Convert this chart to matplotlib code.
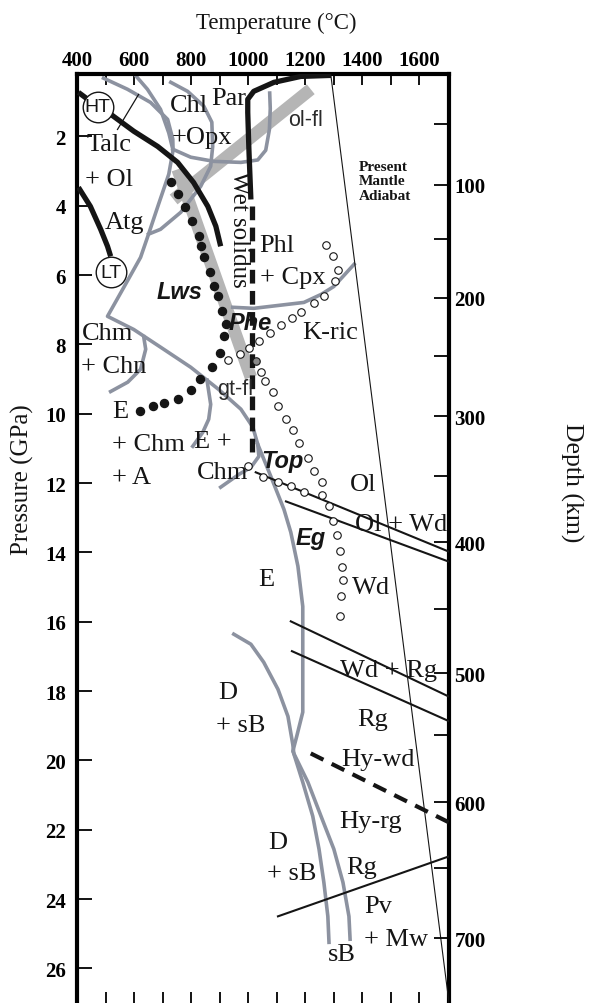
import matplotlib
matplotlib.use("Agg")
import matplotlib.pyplot as plt

SERIF = ["Liberation Serif", "DejaVu Serif"]
SANS = ["Liberation Sans", "DejaVu Sans"]
GREY = "#8c92a0"
BAND = "#b5b5b5"
INK = "#151515"

# axis ranges and ticks
T_RANGE = (400, 1705)
P_RANGE = (27.0, 0.2)
temp_ticks = list(range(400, 1700, 100))
temp_labels = [str(t) if t % 200 == 0 else "" for t in temp_ticks]
pressure_ticks = list(range(2, 27, 2))
depth_km = [50, 100, 150, 200, 250, 300, 350, 400, 450, 500, 550, 600, 650, 700]
depth_at_pressure = [1.65, 3.39, 4.97, 6.65, 8.34, 10.08, 11.80, 13.71, 15.64, 17.49, 19.28, 21.21, 23.11, 25.13]
depth_labels = [str(d) if d % 100 == 0 else "" for d in depth_km]

# thick black reaction curves
ht_T = [405, 472, 518, 599, 683, 753, 809, 859, 887, 904]
ht_P = [0.73, 1.14, 1.36, 1.85, 2.29, 2.75, 3.33, 4.02, 4.59, 5.17]
atg_T = [405, 447, 483, 507, 518]
atg_P = [3.47, 4.02, 4.68, 5.17, 5.46]
solidus_T = [1291, 1185, 1091, 1020, 999, 999, 1003, 1010]
solidus_P = [0.24, 0.27, 0.44, 0.70, 0.93, 1.31, 2.37, 3.82]
solidus_dash_T = [1015, 1015]
solidus_dash_P = [4.0, 11.1]

# grey fluid bands
olfl_T = [1220, 739]
olfl_P = [0.64, 3.82]
gtfl_T = [753, 1010]
gtfl_P = [2.95, 8.95]

# grey phase boundaries
grey_lines = {
    "talc": ([493, 577, 658, 718, 736, 737, 722, 686, 651, 623, 570, 507, 599, 693, 799, 897, 975, 1017, 1034, 1038, 1010, 968, 904],
             [0.32, 0.64, 1.02, 1.51, 2.08, 2.40, 3.09, 3.96, 4.82, 5.49, 6.27, 7.19, 7.57, 8.08, 8.66, 9.30, 9.87, 10.39, 10.88, 11.23, 11.55, 11.75, 12.12]),
    "chl": ([605, 647, 693, 722, 736], [0.24, 0.64, 1.22, 1.90, 2.37]),
    "opx": ([729, 788, 845, 873, 876, 869, 834, 764, 693, 651], [0.44, 0.70, 1.13, 1.59, 2.29, 2.86, 3.44, 4.19, 4.68, 4.82]),
    "par": ([736, 799, 880, 975, 1034, 1062, 1075, 1078, 1076], [2.37, 2.60, 2.72, 2.75, 2.68, 2.40, 1.80, 1.20, 0.75]),
    "chn": ([634, 641, 623, 578, 518], [7.78, 8.14, 8.72, 9.09, 9.36]),
    "e_chm": ([856, 869, 862, 841, 806], [9.03, 9.73, 10.16, 10.54, 10.94]),
    "eg": ([1034, 1080, 1126, 1150, 1175, 1192, 1192, 1192, 1171, 1157, 1210, 1256, 1301, 1333, 1354, 1358],
           [10.88, 11.81, 12.76, 13.42, 14.40, 15.56, 16.80, 18.61, 19.30, 19.74, 20.63, 21.61, 22.56, 23.52, 24.50, 25.16]),
    "d_sb": ([950, 1010, 1055, 1105, 1140, 1157, 1161, 1192, 1227, 1249, 1266, 1280, 1284],
             [16.36, 16.65, 17.17, 17.95, 18.73, 19.54, 19.82, 20.63, 21.61, 22.56, 23.52, 24.50, 25.25]),
    "cpx": ([946, 1020, 1196, 1256, 1301, 1372], [6.93, 6.96, 6.79, 6.56, 6.33, 5.69]),
}

# thin black transitions
thin_lines = {
    "ol": ([1027, 1702], [11.69, 13.97]),
    "ol_wd": ([1133, 1702], [12.53, 14.26]),
    "wd": ([1150, 1702], [15.99, 18.15]),
    "wd_rg": ([1154, 1705], [16.85, 18.87]),
    "pv": ([1105, 1705], [24.50, 22.77]),
}
hywd_T = [1220, 1705]
hywd_P = [19.8, 21.79]
pointer_T = [542, 616]
pointer_P = [1.80, 0.79]
adiabat_T = [1290, 1705]
adiabat_P = [0.2, 27.0]

# lawsonite stability (filled dots)
lws_T = [729, 753, 778, 802, 827, 834, 845, 866, 880, 894, 908, 922, 915, 901, 873, 830, 799, 753, 704, 665, 620]
lws_P = [3.33, 3.67, 4.05, 4.45, 4.88, 5.17, 5.49, 5.92, 6.33, 6.61, 7.05, 7.42, 7.77, 8.26, 8.66, 9.01, 9.33, 9.58, 9.70, 9.79, 9.93]

# K-phase stability (open circles)
kric_T = [1273, 1298, 1315, 1305, 1266, 1231, 1185, 1154, 1115, 1076, 1038, 1003, 971, 929]
kric_P = [5.12, 5.46, 5.86, 6.18, 6.61, 6.82, 7.08, 7.25, 7.45, 7.68, 7.91, 8.11, 8.29, 8.46]
phe_T = [1045, 1059, 1087, 1105, 1133, 1157, 1178, 1210, 1231, 1260, 1260, 1284, 1298, 1312, 1322, 1329, 1333, 1326, 1322]
phe_P = [8.81, 9.07, 9.38, 9.79, 10.16, 10.48, 10.85, 11.29, 11.66, 11.98, 12.35, 12.67, 13.10, 13.51, 13.97, 14.43, 14.81, 15.27, 15.84]
top_T = [999, 1052, 1105, 1150, 1195]
top_P = [11.52, 11.84, 11.97, 12.08, 12.25]
junction_T = [1027]
junction_P = [8.49]

# region labels
serif_text = ["Par", "Chl", "+Opx", "Talc", "+ Ol", "Atg", "Phl", "+ Cpx", "K-ric", "Chm", "+ Chn",
              "E", "+ Chm", "+ A", "E +", "Chm", "Ol", "Ol + Wd", "E", "Wd", "Wd + Rg", "D", "+ sB",
              "Rg", "Hy-wd", "Hy-rg", "D", "+ sB", "Rg", "Pv", "+ Mw", "sB"]
serif_T = [933, 793, 837, 511, 514, 567, 1101, 1158, 1287, 508, 529,
           552, 651, 592, 877, 912, 1404, 1537, 1063, 1431, 1494, 929, 975,
           1438, 1456, 1431, 1105, 1154, 1400, 1456, 1519, 1329]
serif_P = [0.88, 1.08, 2.03, 2.23, 3.24, 4.48, 5.12, 6.07, 7.65, 7.68, 8.63,
           9.93, 10.88, 11.83, 10.80, 11.69, 12.04, 13.19, 14.78, 15.00, 17.40, 18.04, 18.99,
           18.81, 19.97, 21.76, 22.36, 23.26, 23.08, 24.21, 25.16, 25.59]
phase_text = ["Lws", "Phe", "Top", "Eg"]
phase_T = [760, 1006, 1119, 1220]
phase_P = [6.47, 7.37, 11.35, 13.57]
fluid_text = ["ol-fl", "gt-fl"]
fluid_T = [1203, 954]
fluid_P = [1.51, 9.27]
circled_text = ["HT", "LT"]
circled_T = [472, 518]
circled_P = [1.14, 5.92]


fig = plt.figure(figsize=(5.96, 10.04), dpi=100)
ax = fig.add_axes([77 / 596, 0.0, 372 / 596, 929 / 1004])
ax.set_xlim(*T_RANGE)
ax.set_ylim(*P_RANGE)

ax.plot(olfl_T, olfl_P, color=BAND, lw=9, solid_capstyle="butt", zorder=1)
ax.plot(gtfl_T, gtfl_P, color=BAND, lw=9, solid_capstyle="butt", zorder=1)

for temps, pressures in grey_lines.values():
    ax.plot(temps, pressures, color=GREY, lw=2.6, solid_joinstyle="round", zorder=2)

for temps, pressures in thin_lines.values():
    ax.plot(temps, pressures, color=INK, lw=1.5, zorder=3)
ax.plot(hywd_T, hywd_P, color=INK, lw=3, linestyle=(0, (3.4, 2.2)), zorder=3)
ax.plot(pointer_T, pointer_P, color=INK, lw=0.9, zorder=3)
ax.plot(adiabat_T, adiabat_P, color=INK, lw=0.8, zorder=3)

ax.plot(ht_T, ht_P, color=INK, lw=3.8, solid_capstyle="butt", zorder=4)
ax.plot(atg_T, atg_P, color=INK, lw=3.8, solid_capstyle="butt", zorder=4)
ax.plot(solidus_T, solidus_P, color=INK, lw=3.8, solid_capstyle="butt", zorder=4)
ax.plot(solidus_dash_T, solidus_dash_P, color=INK, lw=3.8, linestyle=(0, (2.6, 1.4)), zorder=4)

ax.plot(lws_T, lws_P, linestyle="none", marker="o", ms=5.8, color=INK, zorder=5)
for temps, pressures in [(kric_T, kric_P), (phe_T, phe_P), (top_T, top_P)]:
    ax.plot(temps, pressures, linestyle="none", marker="o", ms=5.4, mfc="white", mec=INK, mew=0.8, zorder=5)
ax.plot(junction_T, junction_P, linestyle="none", marker="o", ms=5.4, mfc="#8a8a8a", mec=INK, mew=0.8, zorder=5)

for text, t, p in zip(circled_text, circled_T, circled_P):
    ax.plot([t], [p], marker="o", ms=22, mfc="white", mec=INK, mew=1.0, zorder=6)
    ax.text(t, p, text, family=SANS, fontsize=14, ha="center", va="center", color=INK, zorder=7)

for text, t, p in zip(serif_text, serif_T, serif_P):
    ax.text(t, p, text, family=SERIF, fontsize=19, ha="center", va="center", color=INK, zorder=7)
for text, t, p in zip(phase_text, phase_T, phase_P):
    ax.text(t, p, text, family=SANS, fontsize=17, fontweight="bold", style="italic",
            ha="center", va="center", color=INK, zorder=7)
for text, t, p in zip(fluid_text, fluid_T, fluid_P):
    ax.text(t, p, text, family=SANS, fontsize=15.5, ha="center", va="center", color="#2a2a2a", zorder=7)

ax.text(968, 4.65, "Wet solidus", family=SERIF, fontsize=18, rotation=270,
        ha="center", va="center", color=INK, zorder=7)
ax.text(1390, 2.67, "Present\nMantle\nAdiabat", family=SERIF, fontsize=11, fontweight="bold",
        ha="left", va="top", linespacing=1.15, color=INK, zorder=7)

# axes styling
for side in ["left", "top", "right"]:
    ax.spines[side].set_linewidth(3)
ax.spines["bottom"].set_visible(False)

ax.set_xticks(temp_ticks)
ax.set_xticklabels(temp_labels, family=SERIF, fontsize=15, fontweight="bold")
ax.tick_params(axis="x", top=True, bottom=True, labeltop=True, labelbottom=False,
               direction="in", length=8, width=1.3, pad=3)
ax.set_yticks(pressure_ticks)
ax.set_yticklabels([str(p) for p in pressure_ticks], family=SERIF, fontsize=15, fontweight="bold")

depth_ax = ax.twinx()
depth_ax.set_ylim(*P_RANGE)
for side in depth_ax.spines:
    depth_ax.spines[side].set_visible(False)
depth_ax.set_yticks(depth_at_pressure)
depth_ax.set_yticklabels(depth_labels, family=SERIF, fontsize=15, fontweight="bold")
depth_ax.tick_params(axis="y", right=True, left=False, direction="in", length=11, width=1.3, pad=4)
ax.tick_params(axis="y", left=True, right=False, direction="in", length=11, width=1.3, pad=8)

fig.text(276 / 596, 1 - 23 / 1004, "Temperature (\u00b0C)", family=SERIF, fontsize=16.5,
         ha="center", va="center", color=INK)
fig.text(22 / 596, 1 - 480 / 1004, "Pressure (GPa)", family=SERIF, fontsize=18,
         rotation=90, ha="center", va="center", color=INK)
fig.text(572 / 596, 1 - 483 / 1004, "Depth (km)", family=SERIF, fontsize=18.5,
         rotation=270, ha="center", va="center", color=INK)

fig.savefig("out.png", dpi=100, facecolor="white")
